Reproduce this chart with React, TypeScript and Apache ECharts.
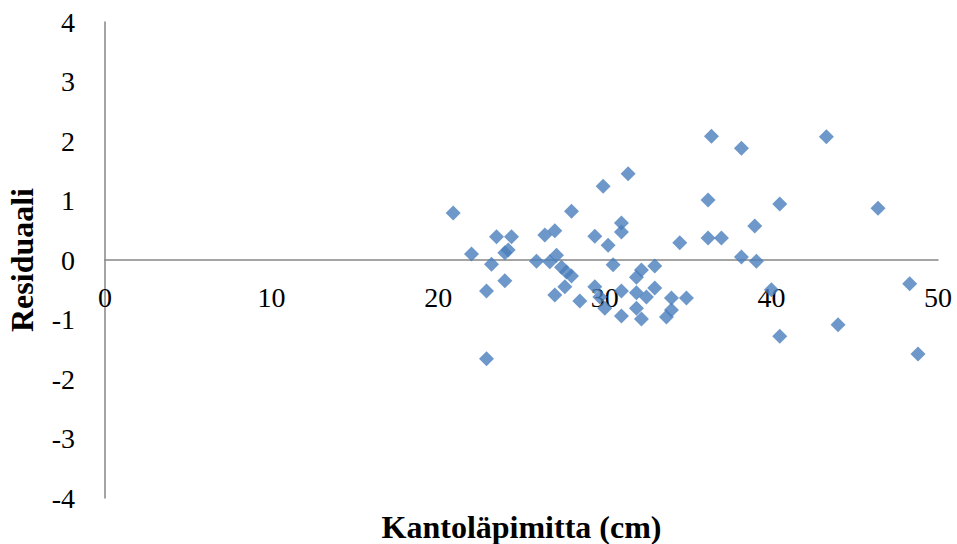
import React, { useEffect, useRef } from "react";
import * as echarts from "echarts";

const diameters: number[] = [
  20.9, 22.0, 23.5, 24.4, 23.2, 24.0, 24.2, 24.0, 22.9, 22.9,
  25.9, 26.4, 27.0, 28.0, 26.7, 27.1, 27.4, 27.7, 28.0, 27.6,
  27.0, 28.5, 29.9, 31.4, 31.0, 31.0, 29.4, 30.2, 30.5, 29.4,
  29.7, 30.0, 31.0, 31.0, 31.9, 31.9, 32.2, 31.9, 32.2, 33.0,
  33.0, 32.5, 34.0, 34.0, 33.7, 34.9, 34.5, 36.4, 38.2, 43.3,
  36.2, 40.5, 46.4, 39.0, 36.2, 37.0, 38.2, 39.1, 40.0, 48.3,
  44.0, 40.5, 48.8,
];
const residuals: number[] = [
  0.79, 0.10, 0.39, 0.39, -0.07, 0.12, 0.17, -0.35, -0.52, -1.66,
  -0.02, 0.42, 0.49, 0.82, -0.03, 0.08, -0.12, -0.20, -0.27, -0.45,
  -0.59, -0.69, 1.24, 1.45, 0.62, 0.47, 0.40, 0.25, -0.08, -0.45,
  -0.62, -0.81, -0.52, -0.94, -0.55, -0.81, -0.99, -0.29, -0.17, -0.10,
  -0.47, -0.62, -0.64, -0.84, -0.96, -0.64, 0.29, 2.08, 1.88, 2.07,
  1.01, 0.94, 0.87, 0.57, 0.37, 0.37, 0.05, -0.02, -0.50, -0.40,
  -1.09, -1.28, -1.58,
];
const xTitle = "Kantoläpimitta (cm)";
const yTitle = "Residuaali";

export default function App() {
  const ref = useRef<HTMLDivElement>(null);
  useEffect(() => {
    if (!ref.current) return;
    const chart = echarts.init(ref.current, undefined, { renderer: "svg" });
    const font = "'Liberation Serif', 'Times New Roman', serif";
    chart.setOption({
      animation: false,
      backgroundColor: "#ffffff",
      grid: { left: 105, right: 19, top: 22, bottom: 46, containLabel: false, outerBoundsMode: "none" },
      xAxis: {
        type: "value",
        min: 0,
        max: 50,
        interval: 10,
        offset: -238,
        name: xTitle,
        nameLocation: "middle",
        nameGap: 251,
        nameTextStyle: { fontFamily: font, fontSize: 32, fontWeight: "bold", color: "#000" },
        axisLine: { onZero: false, lineStyle: { color: "#868686", width: 1.5 } },
        axisTick: { show: false },
        axisLabel: { fontFamily: font, fontSize: 28, color: "#000", margin: 23 },
        splitLine: { show: false },
      },
      yAxis: {
        type: "value",
        min: -4,
        max: 4,
        interval: 1,
        name: yTitle,
        nameLocation: "middle",
        nameGap: 67,
        nameTextStyle: { fontFamily: font, fontSize: 32, fontWeight: "bold", color: "#000" },
        axisLine: { onZero: false, lineStyle: { color: "#868686", width: 1.5 } },
        axisTick: { show: false },
        axisLabel: { fontFamily: font, fontSize: 28, color: "#000", margin: 30 },
        splitLine: { show: false },
      },
      series: [
        {
          type: "scatter",
          data: diameters.map((d, i) => [d, residuals[i]]),
          symbol: "diamond",
          symbolSize: 15,
          itemStyle: { color: "#4A7EBB" },
        },
      ],
    });
    return () => chart.dispose();
  }, []);
  return (
    <div
      ref={ref}
      style={{ position: "absolute", left: 0, top: 0, width: 957, height: 544 }}
    />
  );
}
